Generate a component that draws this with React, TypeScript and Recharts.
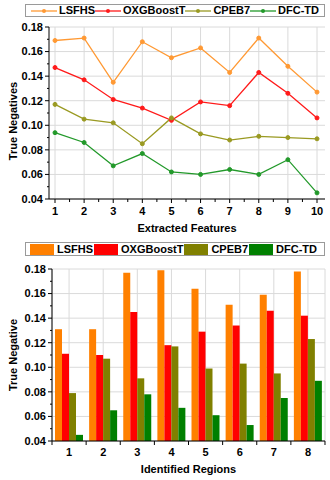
import React from 'react';
import { LineChart, Line, BarChart, Bar, XAxis, YAxis, CartesianGrid } from 'recharts';

const FONT = '"Liberation Sans", Arial, sans-serif';

const seriesNames = ['LSFHS', 'OXGBoostT', 'CPEB7', 'DFC-TD'];
const lineColors = ['#FF9933', '#FF1A1A', '#9A9A22', '#22992A'];
const barColors = ['#FF8000', '#FF0000', '#808000', '#008000'];

// Top chart: Extracted Features
const features = [1, 2, 3, 4, 5, 6, 7, 8, 9, 10];
const featureMinorTicks = [1.5, 2.5, 3.5, 4.5, 5.5, 6.5, 7.5, 8.5, 9.5];
const lsfhsLine = [0.169, 0.171, 0.135, 0.168, 0.155, 0.163, 0.143, 0.171, 0.148, 0.127];
const oxgLine = [0.147, 0.137, 0.121, 0.114, 0.104, 0.119, 0.116, 0.143, 0.126, 0.106];
const cpebLine = [0.117, 0.105, 0.102, 0.085, 0.106, 0.093, 0.088, 0.091, 0.090, 0.089];
const dfcLine = [0.094, 0.086, 0.067, 0.077, 0.062, 0.060, 0.064, 0.060, 0.072, 0.045];

// Bottom chart: Identified Regions
const regions = ['1', '2', '3', '4', '5', '6', '7', '8'];
const lsfhsBar = [0.131, 0.131, 0.177, 0.179, 0.164, 0.151, 0.159, 0.178];
const oxgBar = [0.111, 0.110, 0.145, 0.118, 0.129, 0.134, 0.146, 0.142];
const cpebBar = [0.079, 0.107, 0.091, 0.117, 0.099, 0.103, 0.095, 0.123];
const dfcBar = [0.045, 0.065, 0.078, 0.067, 0.061, 0.053, 0.075, 0.089];

const yMajor = [0.04, 0.06, 0.08, 0.10, 0.12, 0.14, 0.16, 0.18];
const yMinor = [0.05, 0.07, 0.09, 0.11, 0.13, 0.15, 0.17];
const yTicks = [...yMajor, ...yMinor].sort((a, b) => a - b);
const xTicksTop = [...features, ...featureMinorTicks].sort((a, b) => a - b);

const lineSeries = [lsfhsLine, oxgLine, cpebLine, dfcLine];
const barSeries = [lsfhsBar, oxgBar, cpebBar, dfcBar];

const lineData = features.map((f, i) => {
  const row: any = { feature: f };
  seriesNames.forEach((n, k) => (row[n] = lineSeries[k][i]));
  return row;
});
const barData = regions.map((r, i) => {
  const row: any = { region: r };
  seriesNames.forEach((n, k) => (row[n] = barSeries[k][i]));
  return row;
});

const txt = { fontFamily: FONT, fontWeight: 'bold' as const, fontSize: 11, fill: '#000' };

const isMajor = (v: number, majors: number[]) => majors.some((m) => Math.abs(m - v) < 1e-6);

const makeYTick = (tickSize: number, tickMargin: number) => (props: any) => {
  const { x, y, payload } = props;
  const v = Number(payload.value);
  const major = isMajor(v, yMajor);
  const ax = x + tickSize + tickMargin;
  return (
    <g>
      <line x1={ax - (major ? 4 : 2)} x2={ax} y1={y} y2={y} stroke="#000" strokeWidth={1} />
      {major && (
        <text x={x} y={y} dy="0.35em" textAnchor="end" {...txt}>
          {v.toFixed(2)}
        </text>
      )}
    </g>
  );
};

const TopXTick = (props: any) => {
  const { x, y, payload } = props;
  const v = Number(payload.value);
  const major = Number.isInteger(v);
  const ay = y - 8;
  return (
    <g>
      <line x1={x} x2={x} y1={ay} y2={ay + (major ? 4 : 3)} stroke="#000" strokeWidth={1} />
      {major && (
        <text x={x} y={ay + 8} dy="0.71em" textAnchor="middle" {...txt}>
          {v}
        </text>
      )}
    </g>
  );
};

const BottomXTick = (props: any) => {
  const { x, y, payload, index, visibleTicksCount } = props;
  const ay = y - 7;
  const half = 17.06;
  return (
    <g>
      <line x1={x - half} x2={x - half} y1={ay} y2={ay + 4} stroke="#000" strokeWidth={1} />
      {index === visibleTicksCount - 1 && (
        <line x1={x + half} x2={x + half} y1={ay} y2={ay + 4} stroke="#000" strokeWidth={1} />
      )}
      <text x={x} y={ay + 7} dy="0.71em" textAnchor="middle" {...txt}>
        {payload.value}
      </text>
    </g>
  );
};

const xTitle = (title: string, bottomOffset: number) => (props: any) => {
  const vb = props.viewBox || {};
  return (
    <text x={vb.x + vb.width / 2} y={vb.y + vb.height - bottomOffset} textAnchor="middle" {...txt}>
      {title}
    </text>
  );
};

const yTitle = (title: string, dy: number) => (props: any) => {
  const vb = props.viewBox || {};
  const cy = vb.y + vb.height / 2 + dy;
  return (
    <text transform={`translate(16.5, ${cy}) rotate(-90)`} textAnchor="middle" {...txt}>
      {title}
    </text>
  );
};

const LineLegend = () => (
  <div
    style={{
      position: 'absolute', left: 25, top: 4, width: 300, height: 13, boxSizing: 'border-box',
      border: '1px solid #9a9a9a', display: 'flex', alignItems: 'center', paddingLeft: 5,
      fontFamily: FONT, fontWeight: 'bold', fontSize: 11, lineHeight: '11px', color: '#000', background: '#fff',
    }}
  >
    {seriesNames.map((n, i) => (
      <span key={n} style={{ display: 'inline-flex', alignItems: 'center', whiteSpace: 'nowrap' }}>
        <svg width={26} height={8} style={{ display: 'block' }}>
          <line x1={0} x2={26} y1={4} y2={4} stroke={lineColors[i]} strokeWidth={1.3} />
          <circle cx={13} cy={4} r={2} fill={lineColors[i]} />
        </svg>
        <span style={{ marginLeft: 2 }}>{n}</span>
      </span>
    ))}
  </div>
);

const BarLegend = () => (
  <div
    style={{
      position: 'absolute', left: 25, top: 2, width: 300, height: 14, boxSizing: 'border-box',
      border: '1px solid #9a9a9a', display: 'flex', alignItems: 'center', paddingLeft: 4,
      fontFamily: FONT, fontWeight: 'bold', fontSize: 11, lineHeight: '11px', color: '#000', background: '#fff',
    }}
  >
    {seriesNames.map((n, i) => (
      <span key={n} style={{ display: 'inline-flex', alignItems: 'center', whiteSpace: 'nowrap', marginRight: 1 }}>
        <span style={{ display: 'inline-block', width: 24, height: 11, background: barColors[i] }} />
        <span style={{ marginLeft: 3 }}>{n}</span>
      </span>
    ))}
  </div>
);

export default function App() {
  return (
    <div style={{ position: 'absolute', left: 0, top: 0, width: 330, height: 480, background: '#fff' }}>
      <div style={{ position: 'absolute', left: 0, top: 0, width: 330, height: 240 }}>
        <LineChart width={330} height={240} data={lineData} margin={{ top: 27, right: 5, bottom: 0, left: 0 }}>
          <CartesianGrid stroke="#dadada" horizontalValues={yMajor} verticalValues={features} />
          <XAxis
            dataKey="feature" type="number" domain={[1, 10]} ticks={xTicksTop} interval={0}
            padding={{ left: 6, right: 8 }} height={41} tickSize={4} tickMargin={4} tickLine={false}
            axisLine={{ stroke: '#000' }} tick={TopXTick}
            label={{ content: xTitle('Extracted Features', 8) }}
          />
          <YAxis
            type="number" domain={[0.04, 0.18]} ticks={yTicks} interval={0} width={49}
            tickSize={4} tickMargin={2} tickLine={false} axisLine={{ stroke: '#000' }}
            tick={makeYTick(4, 2)} label={{ content: yTitle('True Negatives', 8) }}
          />
          {seriesNames.map((n, i) => (
            <Line
              key={n} dataKey={n} stroke={lineColors[i]} strokeWidth={1.3} isAnimationActive={false}
              dot={{ r: 2, fill: lineColors[i], stroke: lineColors[i], strokeWidth: 1 }}
            />
          ))}
        </LineChart>
        <LineLegend />
      </div>
      <div style={{ position: 'absolute', left: 0, top: 240, width: 330, height: 240 }}>
        <BarChart width={330} height={240} data={barData} margin={{ top: 29, right: 5, bottom: 0, left: 0 }} barGap={0}>
          <CartesianGrid stroke="#dadada" horizontalValues={yMajor} />
          <XAxis
            dataKey="region" height={39} tickSize={4} tickMargin={3} tickLine={false}
            axisLine={{ stroke: '#000' }} tick={BottomXTick} interval={0}
            label={{ content: xTitle('Identified Regions', 7) }}
          />
          <YAxis
            type="number" domain={[0.04, 0.18]} ticks={yTicks} interval={0} width={52}
            tickSize={4} tickMargin={2} tickLine={false} axisLine={{ stroke: '#000' }}
            tick={makeYTick(4, 2)} label={{ content: yTitle('True Negative', 0) }}
          />
          {seriesNames.map((n, i) => (
            <Bar key={n} dataKey={n} fill={barColors[i]} barSize={7} isAnimationActive={false} />
          ))}
        </BarChart>
        <BarLegend />
      </div>
    </div>
  );
}
